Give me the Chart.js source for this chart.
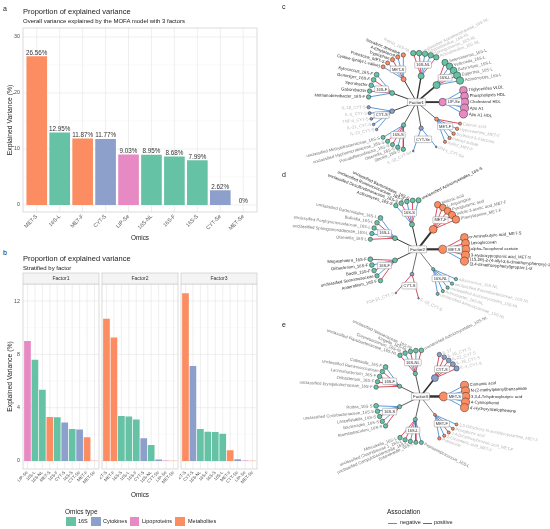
<!DOCTYPE html>
<html>
<head>
<meta charset="utf-8">
<script src="https://cdn.jsdelivr.net/npm/chart.js@4.4.1/dist/chart.umd.min.js"></script>
<style>
html,body{margin:0;padding:0;background:#fff;}
body{width:550px;height:529px;position:relative;overflow:hidden;font-family:'Liberation Sans',Arial,sans-serif;color:#1a1a1a;}
.t{position:absolute;white-space:nowrap;line-height:1;}
canvas{position:absolute;}
.sw{position:absolute;width:9.5px;height:9px;}
.ln{position:absolute;height:1px;width:9px;}
</style>
</head>
<body>
<canvas id="cA" width="262" height="245" style="left:0;top:0;width:262px;height:245px"></canvas>
<canvas id="cB1" width="100" height="230" style="left:0;top:270px;width:100px;height:230px"></canvas>
<canvas id="cB2" width="80" height="230" style="left:100px;top:270px;width:80px;height:230px"></canvas>
<canvas id="cB3" width="80" height="230" style="left:179px;top:270px;width:80px;height:230px"></canvas>
<canvas id="cN" width="288" height="529" style="left:262px;top:0;width:288px;height:529px"></canvas>

<div class="t" style="left:3px;top:5px;font-size:7px">a</div>
<div class="t" style="left:23px;top:8px;font-size:7.5px">Proportion of explained variance</div>
<div class="t" style="left:23px;top:18px;font-size:6px">Overall variance explained by the MOFA model with 3 factors</div>
<div class="t" style="left:3px;top:249px;font-size:7px">b</div>
<div class="t" style="left:23px;top:255px;font-size:7.5px">Proportion of explained variance</div>
<div class="t" style="left:23px;top:265px;font-size:6px">Stratified by factor</div>
<div class="t" style="left:120px;top:492px;width:40px;text-align:center;font-size:6.4px">Omics</div>
<div class="t" style="left:65px;top:508.5px;font-size:6.5px">Omics type</div>
<div id="legB"></div>
<div class="t" style="left:282px;top:3px;font-size:7px">c</div>
<div class="t" style="left:282px;top:171px;font-size:7px">d</div>
<div class="t" style="left:282px;top:321px;font-size:7px">e</div>
<div class="t" style="left:387px;top:509px;font-size:6.5px">Association</div>
<div id="legN"></div>

<script>
// ---------------- DATA ----------------
const OMICS_A = ['MET-S','16S-L','MET-F','CYT-S','LIP-Se','16S-NL','16S-F','16S-S','CYT-Se','MET-Se'];
const VAR_A = [26.56,12.95,11.87,11.77,9.03,8.95,8.68,7.99,2.62,0];
const TICKS_A = [0,10,20,30];

const FACTORS = ['Factor1','Factor2','Factor3'];
const F1_OMICS = ['LIP-Se','16S-L','16S-NL','MET-S','16S-F','CYT-S','16S-S','CYT-Se','MET-F','MET-Se'];
const F1_VAR = [9.0,7.6,5.35,3.3,3.28,2.88,2.4,2.36,1.78,0.02];
const F2_OMICS = ['MET-S','MET-F','16S-S','16S-L','16S-F','CYT-S','16S-NL','CYT-Se','LIP-Se','MET-Se'];
const F2_VAR = [10.68,9.27,3.37,3.33,3.12,1.7,1.2,0.11,0.03,0.01];
const F3_OMICS = ['MET-S','CYT-S','16S-NL','16S-F','16S-S','16S-L','MET-F','CYT-Se','LIP-Se','MET-Se'];
const F3_VAR = [12.58,7.13,2.4,2.2,2.18,2.05,0.8,0.13,0.03,0.01];
const TICKS_B = [0,4,8,12];

const OMICS_TYPES = ['16S','Cytokines','Lipoproteins','Metabolites'];
const TYPE_PREFIX = ['16S','CYT','LIP','MET'];
const ASSOC = ['negative','positive'];

// network c (Factor1) - hubs clockwise
const HUBS_C = ['LIP-Se','MET-F','CYT-Se','16S-S','CYT-S','16S-F','MET-S','16S-NL','16S-L'];
const LEAVES_C = [
 ['Triglycerides VLDL','Phospholipids HDL','Cholesterol HDL','Apo A1','Apo A1 HDL'],
 ['Caproic acid','Hypoxanthine_MET-F','Erythritol-3,4-lactone','Indoxyl sulfate','Xylitol_MET-F'],
 ['IFN-γ_CYT-Se','IL-10_CYT-Se'],
 ['Slackia_16S-S','Olsenella_16S-S','Pseudoflavonifractor_16S-S','unclassified Hyphomicrobiaceae_16S-S','unclassified Methylobacteriaceae_16S-S'],
 ['IL-23_CYT-S','IL-21_CYT-S','TNF-α_CYT-S','IL-6_CYT-S','IL-1β_CYT-S'],
 ['Methanobrevibacter_16S-F','Gabonibacter','Sporobacter','Gemmiger_16S-F','Kytococcus_16S-F'],
 ['Cystine-(prolyl-L-valine)','Putrescine_MET-S','Tryptophan','4-Ethylphenol','Isovaleric derivative'],
 ['Rothia_16S-NL','unclassified Acetobacteraceae_16S-NL','Streptobacillus_16S-NL','Sphingomonas_16S-NL','Actinobacillus_16S-NL'],
 ['Selenomonas_16S-L','Veillonella_16S-L','Butyrivibrio_16S-L','Eggerthia_16S-L','Actinomyces_16S-L']
];
const WEIGHTS_C = [
 [0.9,0.92,0.94,0.96,0.98],[0.28,0.3,0.32,0.3,0.28],[0.08,0.08],
 [0.45,0.45,0.42,0.42,0.4],[0.18,0.2,0.22,0.26,0.3],[0.45,0.45,0.48,0.5,0.52],
 [0.38,0.4,0.42,0.42,0.44],[0.58,0.6,0.6,0.6,0.6],[0.7,0.74,0.78,0.82,0.86]
];
const SIGNS_C = [
 [-1,-1,-1,-1,-1],[1,-1,-1,-1,-1],[-1,-1],[1,-1,1,1,-1],[-1,-1,-1,-1,-1],
 [-1,1,-1,1,-1],[-1,-1,1,-1,-1],[1,1,-1,-1,1],[1,-1,-1,1,-1]
];

// network d (Factor2)
const HUBS_D = ['MET-S','16S-NL','CYT-S','16S-F','16S-L','16S-S','MET-F'];
const LEAVES_D = [
 ['α-Aminobutyric acid_MET-S','Levoglucosan','alpha-Tocopherol acetate','3-Hydroxypropionic acid_MET-S','(1S,2R)-2-(4-allyl-2,6-dimethoxyphenoxy)-1-\n(3,4-dimethoxyphenyl)propan-1-ol'],
 ['Alloiococcus_16S-NL','unclassified Enterobacteriaceae_16S-NL','unclassified Actinomycetales_16S-NL','Arthrobacter_16S-NL','unclassified Aerococcaceae_16S-NL'],
 ['IL-1β_CYT-S','TGF-β1_CYT-S'],
 ['Anaerofilum_16S-F','unclassified Sporomusaceae','Bacilli_16S-F','Oribacterium_16S-F','Megasphaera_16S-F'],
 ['Olsenella_16S-L','unclassified Sphingomonadaceae_16S-L','unclassified Porphyromonadaceae_16S-L','Bulleidia_16S-L','unclassified Bacteroidales_16S-L'],
 ['Actinomyces_16S-S','unclassified Desulfovibrionaceae_16S-S','unclassified Ruminococcaceae_16S-S','unclassified Bacteroidales_16S-S','unclassified Actinomycetales_16S-S'],
 ['Malonic acid','L-Asparagine','Pyroglutamic acid','Indole-3-acetic acid_MET-F','Phenylalanine_MET-F']
];
const WEIGHTS_D = [
 [0.92,0.94,0.95,0.96,0.98],[0.3,0.3,0.3,0.28,0.28],[0.05,0.05],
 [0.45,0.45,0.48,0.5,0.5],[0.42,0.44,0.46,0.48,0.5],[0.45,0.48,0.5,0.52,0.55],[0.72,0.76,0.8,0.84,0.88]
];
const SIGNS_D = [
 [1,1,-1,1,-1],[-1,-1,-1,-1,-1],[1,1],[1,-1,1,-1,1],[1,-1,-1,1,-1],[-1,1,-1,1,-1],[1,1,1,1,1]
];

// network e (Factor3)
const HUBS_E = ['MET-S','MET-F','16S-L','16S-S','16S-F','16S-NL','CYT-S'];
const LEAVES_E = [
 ['Cinnamic acid','N-(2-methylphenyl)benzamide','3,3,4-Trihydroxybutyric acid','4-Cyanophenol',"4'-Hydroxyacetophenone"],
 ['2,3-Dihydroxy-N-acetylpropylamine_MET-F','Phosphoric acid','3,4-Dihydroxybenzoic acid_MET-F','2-Oxovaleric acid_MET-F','Putrescine'],
 ['Peptostreptococcus_16S-L','Enterobacter_16S-L','unclassified Campylobacteraceae_16S-L','unclassified Clostridiaceae 1_16S-L','Mitsuokella_16S-L'],
 ['Stomatobaculum_16S-S','Bacteroides_16S-S','Lancefieldella_16S-S','unclassified Coriobacteriaceae_16S-S','Rothia_16S-S'],
 ['unclassified Erysipelotrichaceae_16S-F','Oribacterium_16S-F','Lachnobacterium_16S-F','unclassified Ruminococcaceae','Collinsella_16S-F'],
 ['unclassified Flavobacteriaceae_16S-NL','Corynebacterium_16S-NL','Kingella_16S-NL','unclassified Neisseriaceae_16S-NL','unclassified Actinomycetales_16S-NL'],
 ['IL-17','IL-1β_CYT-S','IL-22_CYT-S','IL-18_CYT-S','IL-4_CYT-S']
];
const WEIGHTS_E = [
 [0.95,0.95,0.95,0.95,0.95],[0.25,0.26,0.27,0.28,0.3],[0.4,0.42,0.44,0.44,0.46],
 [0.45,0.45,0.45,0.47,0.5],[0.45,0.45,0.47,0.47,0.5],[0.45,0.47,0.48,0.5,0.5],[0.45,0.47,0.5,0.52,0.55]
];
const SIGNS_E = [
 [-1,-1,-1,-1,-1],[-1,-1,1,-1,-1],[-1,1,-1,1,1],[1,-1,1,-1,-1],[1,1,-1,1,-1],[1,-1,1,-1,1],[1,1,1,1,1]
];

// ---------------- STYLE ----------------
const FONT = "'Liberation Sans', Arial, sans-serif";
const TYPE_COLORS = ['#66C2A5','#8DA0CB','#E78AC3','#FC8D62'];
const BLUE = '#4A8FD8', RED = '#D9394A';
const TONES = ['#2a2a2a','#707070','#b8b8b8'];
const NET_STYLE = [
 {cx:417, cy:99, r1:27, r2:50, tones:[0,2,2,1,2,0,0,2,1]},
 {cx:418, cy:249, r1:26, r2:50, tones:[0,2,2,0,1,0,1]},
 {cx:421, cy:399, r1:24, r2:47, tones:[0,2,1,1,1,1,2]}
];
const LABEL_TILT = 0.3, SPREAD = 28;
const D2R = Math.PI/180;

function typeColor(name){ return TYPE_COLORS[TYPE_PREFIX.indexOf(name.split('-')[0])]; }

Chart.defaults.font.family = FONT;
Chart.defaults.color = '#4D4D4D';

// ---------------- PLUGINS ----------------
const panelPlugin = {
  id:'panel',
  beforeDatasetsDraw(chart, args, o){
    const {ctx, chartArea:a, scales:{x,y}} = chart;
    const n = chart.data.labels.length;
    const ext = (a.right-a.left)/n*0.1;
    const L = a.left-ext, R = a.right+ext;
    ctx.save();
    const hl = (v)=>{const py=y.getPixelForValue(v); ctx.beginPath(); ctx.moveTo(L,py); ctx.lineTo(R,py); ctx.stroke();};
    ctx.strokeStyle='#F1F1F1'; ctx.lineWidth=0.45; o.minor.forEach(hl);
    ctx.strokeStyle='#E4E4E4'; ctx.lineWidth=0.6; o.major.forEach(hl);
    for(let i=0;i<n;i++){const px=x.getPixelForValue(i); ctx.beginPath(); ctx.moveTo(px,a.top); ctx.lineTo(px,a.bottom); ctx.stroke();}
    ctx.restore();
  },
  afterDatasetsDraw(chart, args, o){
    const {ctx, chartArea:a} = chart;
    const n = chart.data.labels.length;
    const ext = (a.right-a.left)/n*0.1;
    const L = a.left-ext, R = a.right+ext;
    ctx.save();
    ctx.strokeStyle='#CCCCCC'; ctx.lineWidth=0.7;
    ctx.strokeRect(L, a.top, R-L, a.bottom-a.top);
    if(o.strip){
      ctx.fillStyle='#F4F4F4';
      ctx.fillRect(L, a.top-11, R-L, 11);
      ctx.strokeRect(L, a.top-11, R-L, 11);
      ctx.fillStyle='#333'; ctx.font='5px '+FONT; ctx.textAlign='center'; ctx.textBaseline='middle';
      ctx.fillText(o.strip, (L+R)/2, a.top-5.3);
    }
    ctx.restore();
  }
};

const barLabelPlugin = {
  id:'barLabels',
  afterDatasetsDraw(chart){
    const meta = chart.getDatasetMeta(0), ctx = chart.ctx, vals = chart.data.datasets[0].data;
    ctx.save();
    ctx.font='6.3px '+FONT; ctx.fillStyle='#333'; ctx.textAlign='center'; ctx.textBaseline='bottom';
    meta.data.forEach((bar,i)=>{ const v=vals[i]; ctx.fillText(v===0?'0%':v.toFixed(2)+'%', bar.x, bar.y-0.2); });
    ctx.restore();
  }
};

// ---------------- PANEL A ----------------
new Chart(document.getElementById('cA'), {
  type:'bar',
  data:{labels:OMICS_A, datasets:[{data:VAR_A, backgroundColor:OMICS_A.map(typeColor), borderWidth:0, barPercentage:0.9, categoryPercentage:1}]},
  options:{
    responsive:false, animation:false, events:[],
    layout:{padding:{top:28,right:7.3,left:0,bottom:0}},
    plugins:{legend:{display:false}, tooltip:{enabled:false}, panel:{major:TICKS_A, minor:[5,15,25]}},
    scales:{
      x:{type:'category', offset:true, grid:{display:false, drawTicks:false}, border:{display:false},
         ticks:{autoSkip:false, minRotation:45, maxRotation:45, font:{size:5.3}, color:'#4D4D4D', padding:1.5},
         title:{display:true, text:'Omics', font:{size:6.4}, color:'#1a1a1a', padding:{top:0,bottom:3}},
         afterFit(s){ s.height=33; s.paddingLeft=0; s.paddingRight=0; }},
      y:{type:'linear', min:-1.25, max:31.6, grid:{display:false, drawTicks:false}, border:{display:false},
         ticks:{font:{size:5.3}, color:'#4D4D4D', padding:5.3},
         afterBuildTicks(s){ s.ticks = TICKS_A.map(v=>({value:v})); },
         title:{display:true, text:'Explained Variance (%)', font:{size:6.8}, color:'#1a1a1a', padding:{top:6,bottom:0}},
         afterFit(s){ s.width=25.3; s.paddingTop=0; s.paddingBottom=0; }}
    }
  },
  plugins:[panelPlugin, barLabelPlugin]
});

// ---------------- PANEL B ----------------
function makeFacet(id, labels, values, strip, showY, padL, padR){
  new Chart(document.getElementById(id), {
    type:'bar',
    data:{labels, datasets:[{data:values, backgroundColor:labels.map(typeColor), borderWidth:0, barPercentage:0.9, categoryPercentage:1}]},
    options:{
      responsive:false, animation:false, events:[],
      layout:{padding:{top:14,right:padR,left:padL,bottom:0}},
      plugins:{legend:{display:false}, tooltip:{enabled:false}, panel:{major:TICKS_B, minor:[2,6,10], strip}},
      scales:{
        x:{type:'category', offset:true, grid:{display:false, drawTicks:false}, border:{display:false},
           ticks:{autoSkip:false, minRotation:45, maxRotation:45, font:{size:4.3}, color:'#4D4D4D', padding:1},
           afterFit(s){ s.height=31; s.paddingLeft=0; s.paddingRight=0; }},
        y:{type:'linear', display:showY, min:-0.6, max:13.28, grid:{display:false, drawTicks:false}, border:{display:false},
           ticks:{font:{size:5.3}, color:'#4D4D4D', padding:3.75},
           afterBuildTicks(s){ s.ticks = TICKS_B.map(v=>({value:v})); },
           title:{display:true, text:'Explained Variance (%)', font:{size:6.8}, color:'#1a1a1a', padding:{top:6,bottom:0}},
           afterFit(s){ s.width = showY ? 23.75 : 0; s.paddingTop=0; s.paddingBottom=0; }}
      }
    },
    plugins:[panelPlugin]
  });
}
makeFacet('cB1', F1_OMICS, F1_VAR, FACTORS[0], true, 0, 1.75);
makeFacet('cB2', F2_OMICS, F2_VAR, FACTORS[1], false, 2.75, 2.75);
makeFacet('cB3', F3_OMICS, F3_VAR, FACTORS[2], false, 2.75, 2.75);

// legend b
(function(){
  const swX=[66,91,129.5,175], txX=[78,103,142,188];
  let h='';
  OMICS_TYPES.forEach((t,i)=>{
    h+=`<div class="sw" style="left:${swX[i]}px;top:517px;background:${TYPE_COLORS[i]}"></div>`;
    h+=`<div class="t" style="left:${txX[i]}px;top:518.8px;font-size:5.5px">${t}</div>`;
  });
  document.getElementById('legB').innerHTML=h;
  const lnX=[388,423], ltX=[400,434], lc=[BLUE,RED];
  let g='';
  ASSOC.forEach((t,i)=>{
    g+=`<div class="ln" style="left:${lnX[i]}px;top:522.5px;background:${lc[i]}"></div>`;
    g+=`<div class="t" style="left:${ltX[i]}px;top:520px;font-size:5.5px">${t}</div>`;
  });
  document.getElementById('legN').innerHTML=g;
})();

// ---------------- NETWORKS ----------------
function buildNet(factor, hubs, leaves, weights, signs, fOmics, fVar, st){
  const nodes=[], hubNodes=[], edges=[], labels=[], boxes=[];
  const n=hubs.length;
  const bd=(st.r1+st.r2)/2;
  hubs.forEach((h,i)=>{
    const th=i*360/n;
    const v=fVar[fOmics.indexOf(h)];
    const hx=st.cx+st.r1*Math.cos(th*D2R), hy=st.cy+st.r1*Math.sin(th*D2R);
    edges.push({a:[st.cx,st.cy], b:[hx,hy], color:'#333333', width:0.45+0.16*v});
    const m=leaves[i].length;
    leaves[i].forEach((lab,j)=>{
      const phi = m>1 ? th-SPREAD/2+j*SPREAD/(m-1) : th;
      const lx=st.cx+st.r2*Math.cos(phi*D2R), ly=st.cy+st.r2*Math.sin(phi*D2R);
      const r=0.6+3.6*weights[i][j];
      edges.push({a:[hx,hy], b:[lx,ly], color:signs[i][j]>0?RED:BLUE, width:0.9});
      nodes.push({x:lx,y:ly,r,c:typeColor(h)});
      labels.push({x:lx,y:ly,r,phi,text:lab,tone:st.tones[i]});
    });
    hubNodes.push({x:hx,y:hy,r:0.4+1.15*Math.sqrt(v),c:typeColor(h)});
    boxes.push({x:st.cx+bd*Math.cos(th*D2R), y:st.cy+bd*Math.sin(th*D2R), text:h});
  });
  return {nodes:nodes.concat(hubNodes), edges, labels, boxes, center:{x:st.cx,y:st.cy,text:factor}};
}
const NETS = [
  buildNet(FACTORS[0], HUBS_C, LEAVES_C, WEIGHTS_C, SIGNS_C, F1_OMICS, F1_VAR, NET_STYLE[0]),
  buildNet(FACTORS[1], HUBS_D, LEAVES_D, WEIGHTS_D, SIGNS_D, F2_OMICS, F2_VAR, NET_STYLE[1]),
  buildNet(FACTORS[2], HUBS_E, LEAVES_E, WEIGHTS_E, SIGNS_E, F3_OMICS, F3_VAR, NET_STYLE[2])
];

function drawBox(ctx,cx,cy,text,size){
  ctx.save();
  ctx.font=size+'px '+FONT;
  const w=ctx.measureText(text).width+3.2, h=size+2.6;
  ctx.fillStyle='rgba(255,255,255,0.92)'; ctx.strokeStyle='#8a8a8a'; ctx.lineWidth=0.5;
  ctx.beginPath();
  if(ctx.roundRect) ctx.roundRect(cx-w/2,cy-h/2,w,h,1); else ctx.rect(cx-w/2,cy-h/2,w,h);
  ctx.fill(); ctx.stroke();
  ctx.fillStyle='#333'; ctx.textAlign='center'; ctx.textBaseline='middle';
  ctx.fillText(text,cx,cy+0.2);
  ctx.restore();
}

const netPlugin = {
  id:'netText',
  afterDatasetsDraw(chart){
    const {ctx, scales:{x,y}} = chart;
    const X=v=>x.getPixelForValue(v), Y=v=>y.getPixelForValue(v);
    NETS.forEach(net=>{
      net.boxes.forEach(b=>drawBox(ctx,X(b.x),Y(b.y),b.text,4));
      drawBox(ctx,X(net.center.x),Y(net.center.y),net.center.text,4.4);
      net.labels.forEach(l=>{
        const phi=((l.phi+180)%360+360)%360-180;
        const right=Math.cos(phi*D2R)>=-0.001;
        const rot = right ? phi*LABEL_TILT : (phi-Math.sign(phi||1)*180)*LABEL_TILT;
        const rr=rot*D2R, dx=Math.cos(rr), dy=Math.sin(rr), s=right?1:-1, off=l.r+1.2;
        ctx.save();
        ctx.translate(X(l.x)+s*off*dx, Y(l.y)+s*off*dy);
        ctx.rotate(rr);
        ctx.font='4.2px '+FONT; ctx.fillStyle=TONES[l.tone];
        ctx.textAlign=right?'left':'right'; ctx.textBaseline='middle';
        const lines=l.text.split('\n');
        lines.forEach((t,k)=>ctx.fillText(t,0,(k-(lines.length-1)/2)*4.8));
        ctx.restore();
      });
    });
  }
};

const netDatasets=[];
NETS.forEach(net=>{
  netDatasets.push({data:net.nodes.map(p=>({x:p.x,y:p.y})), pointRadius:net.nodes.map(p=>p.r), pointHoverRadius:net.nodes.map(p=>p.r),
    pointBackgroundColor:net.nodes.map(p=>p.c), pointBorderColor:'#2b2b2b', pointBorderWidth:0.5, showLine:false, order:0});
});
NETS.forEach(net=>{
  net.edges.forEach(e=>{
    netDatasets.push({data:[{x:e.a[0],y:e.a[1]},{x:e.b[0],y:e.b[1]}], showLine:true, borderColor:e.color, borderWidth:e.width,
      pointRadius:0, pointHoverRadius:0, fill:false, tension:0, order:1});
  });
});

new Chart(document.getElementById('cN'), {
  type:'scatter',
  data:{datasets:netDatasets},
  options:{
    responsive:false, animation:false, events:[],
    layout:{padding:0},
    plugins:{legend:{display:false}, tooltip:{enabled:false}},
    scales:{
      x:{type:'linear', min:262, max:550, display:false},
      y:{type:'linear', min:0, max:529, reverse:true, display:false}
    }
  },
  plugins:[netPlugin]
});
</script>
</body>
</html>
